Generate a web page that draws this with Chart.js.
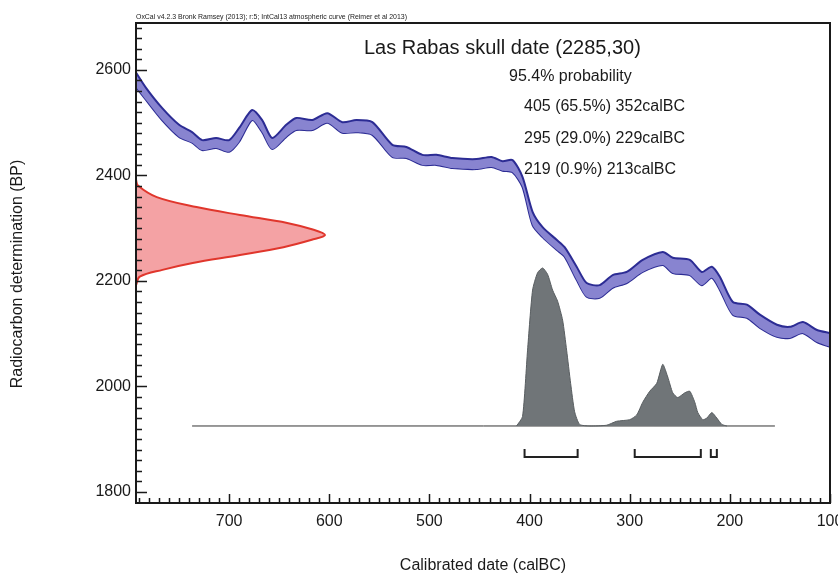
<!DOCTYPE html>
<html>
<head>
<meta charset="utf-8">
<title>Las Rabas skull date</title>
<script src="https://cdn.jsdelivr.net/npm/chart.js@4.4.1/dist/chart.umd.min.js"></script>
<style>
  html, body { margin: 0; padding: 0; background: #fff; }
  canvas { display: block; }
</style>
</head>
<body>
<canvas id="oxcalChart" width="838" height="575"></canvas>
<script>
// IntCal13 band: calBC and the upper / lower edge in BP
const curveYears = [794, 783, 767, 750, 737, 727, 713, 700, 690, 677, 667, 657, 643, 633, 617, 602, 587, 573, 557, 537,
  523, 507, 493, 477, 453, 438, 427, 417, 407, 397, 387, 373, 365, 353, 343, 330, 317, 303, 287, 267,
  257, 240, 228, 218, 210, 197, 183, 170, 153, 140, 127, 113, 100];
const curveHigh = [2598, 2566, 2528, 2496, 2482, 2467, 2471, 2467, 2490, 2524, 2505, 2471, 2496, 2509, 2505, 2518, 2501, 2505, 2501, 2458,
  2454, 2439, 2439, 2433, 2431, 2435, 2427, 2429, 2397, 2331, 2302, 2278, 2264, 2227, 2196, 2192, 2211, 2217, 2240, 2255,
  2244, 2240, 2217, 2227, 2208, 2160, 2155, 2136, 2117, 2113, 2122, 2107, 2101];
const curveLow = [2570, 2543, 2505, 2473, 2462, 2448, 2452, 2445, 2464, 2505, 2482, 2450, 2473, 2486, 2486, 2500, 2481, 2482, 2477, 2435,
  2433, 2420, 2420, 2414, 2412, 2416, 2409, 2406, 2378, 2306, 2283, 2259, 2246, 2202, 2170, 2168, 2187, 2196, 2217, 2230,
  2215, 2211, 2192, 2206, 2183, 2136, 2130, 2111, 2094, 2092, 2101, 2084, 2075];

// the measurement (red, on the BP axis)
const sampleName = "Las Rabas skull date";
const c14Age = 2285;
const c14Err = 30;
const c14Bp = [2392, 2381, 2359, 2340, 2325, 2310, 2297, 2287, 2278, 2264, 2249, 2234, 2221, 2208, 2192];
const c14Dens = [0, 0.01, 0.11, 0.32, 0.55, 0.80, 0.94, 1.0, 0.93, 0.78, 0.55, 0.30, 0.14, 0.02, 0];

// calibrated distribution (grey, on the calBC axis)
const calYears = [413, 407, 402, 397, 392, 387, 382, 377, 372, 367, 363, 359, 355, 350, 340, 323, 313, 300, 293, 287,
  280, 273, 267, 262, 257, 252, 245, 240, 235, 232, 227, 223, 218, 213, 208, 203];
const calDens = [0, 0.06, 0.48, 0.86, 0.97, 1.0, 0.96, 0.86, 0.79, 0.67, 0.48, 0.27, 0.09, 0.01, 0, 0.005, 0.03, 0.04, 0.07, 0.15,
  0.22, 0.27, 0.39, 0.31, 0.21, 0.18, 0.21, 0.22, 0.15, 0.085, 0.04, 0.05, 0.085, 0.05, 0.01, 0];
const calSpan = [737, 155];

// 95.4% ranges
const probLevel = 95.4;
const rangeFrom = [405, 295, 219];
const rangeTo = [352, 229, 213];
const rangePct = [65.5, 29.0, 0.9];

const xTicks = [700, 600, 500, 400, 300, 200, 100];
const yTicks = [1800, 2000, 2200, 2400, 2600];

const FONT = '"Liberation Sans", Arial, sans-serif';
const INK = '#1a1a1a';

const toPts = (xs, ys) => xs.map((v, i) => ({ x: v, y: ys[i] }));

// frame, inward ticks, range brackets and the text
const oxcalDecor = {
  id: 'oxcalDecor',
  afterDraw(chart) {
    const { ctx, chartArea: a, scales } = chart;
    const x = scales.x, y = scales.y, yp = scales.yp;
    ctx.save();

    ctx.strokeStyle = INK;
    ctx.lineWidth = 1.5;
    ctx.beginPath();
    for (let v = 1800; v <= y.max; v += 20) {
      const py = Math.round(y.getPixelForValue(v)) + 0.5;
      const len = v % 200 === 0 ? 11 : 6;
      ctx.moveTo(a.left, py);
      ctx.lineTo(a.left + len, py);
    }
    for (let v = 790; v >= x.min; v -= 10) {
      const px = Math.round(x.getPixelForValue(v)) + 0.5;
      const len = v % 100 === 0 ? 9 : 5;
      ctx.moveTo(px, a.bottom);
      ctx.lineTo(px, a.bottom - len);
    }
    ctx.stroke();

    ctx.lineWidth = 2;
    ctx.strokeRect(a.left, a.top, a.right - a.left, a.bottom - a.top);

    // range brackets under the calibrated distribution
    const by = Math.round(yp.getPixelForValue(0)) + 31;
    ctx.strokeStyle = '#222';
    ctx.lineWidth = 2;
    ctx.beginPath();
    rangeFrom.forEach((f, i) => {
      const x0 = x.getPixelForValue(f), x1 = x.getPixelForValue(rangeTo[i]);
      ctx.moveTo(x0, by - 8);
      ctx.lineTo(x0, by);
      ctx.lineTo(x1, by);
      ctx.lineTo(x1, by - 8);
    });
    ctx.stroke();

    ctx.fillStyle = INK;
    ctx.textBaseline = 'alphabetic';
    ctx.textAlign = 'left';
    ctx.font = '8px ' + FONT;
    ctx.fillText('OxCal v4.2.3 Bronk Ramsey (2013); r:5; IntCal13 atmospheric curve (Reimer et al 2013)', a.left, 19, 271);

    ctx.textBaseline = 'middle';
    ctx.font = '20px ' + FONT;
    ctx.fillText(`${sampleName} (${c14Age},${c14Err})`, 364, 48);
    ctx.font = '16px ' + FONT;
    ctx.fillText(`${probLevel}% probability`, 509, 77);
    rangeFrom.forEach((f, i) => {
      ctx.fillText(`${f} (${rangePct[i].toFixed(1)}%) ${rangeTo[i]}calBC`, 524, 107 + i * 31.5);
    });

    ctx.textAlign = 'center';
    ctx.fillText('Calibrated date (calBC)', (a.left + a.right) / 2, 566);
    ctx.translate(18, 274);
    ctx.rotate(-Math.PI / 2);
    ctx.fillText('Radiocarbon determination (BP)', 0, 0);
    ctx.restore();
  }
};

const ctx = document.getElementById('oxcalChart').getContext('2d');
const oxcalChart = new Chart(ctx, {
  type: 'line',
  data: {
    datasets: [
      {
        label: 'IntCal13 upper',
        data: toPts(curveYears, curveHigh),
        borderColor: '#2c2c94',
        borderWidth: 2,
        backgroundColor: 'rgba(136, 132, 208, 1)',
        fill: '+1',
        tension: 0.25,
      },
      {
        label: 'IntCal13 lower',
        data: toPts(curveYears, curveLow),
        borderColor: '#2c2c94',
        borderWidth: 2,
        fill: false,
        tension: 0.25,
      },
      {
        label: 'R_Date',
        data: toPts(c14Dens, c14Bp),
        indexAxis: 'y',
        xAxisID: 'xp',
        yAxisID: 'y',
        borderColor: '#e0362c',
        borderWidth: 2,
        backgroundColor: '#f4a2a4',
        fill: 'origin',
        tension: 0.35,
      },
      {
        label: 'Calibrated',
        data: toPts(calYears, calDens),
        yAxisID: 'yp',
        borderColor: '#585d60',
        borderWidth: 1,
        backgroundColor: '#707578',
        fill: 'origin',
        tension: 0.2,
      },
      {
        label: 'span',
        data: toPts(calSpan, [0, 0]),
        yAxisID: 'yp',
        borderColor: '#333',
        borderWidth: 1,
        fill: false,
      },
    ],
  },
  options: {
    responsive: false,
    animation: false,
    layout: { padding: { left: 0, right: 8, top: 23, bottom: 0 } },
    elements: { point: { radius: 0 } },
    plugins: {
      legend: { display: false },
      tooltip: { enabled: false },
    },
    scales: {
      x: {
        type: 'linear',
        reverse: true,
        min: 100,
        max: 793,
        grid: { display: false, drawTicks: false },
        border: { display: false },
        ticks: { font: { family: FONT, size: 16 }, color: INK, padding: 9, maxRotation: 0, autoSkip: false,
          callback: (v) => String(v) },
        afterBuildTicks: (s) => { s.ticks = xTicks.map((v) => ({ value: v })); },
        afterFit: (s) => { s.height = 72; s.paddingLeft = 0; s.paddingRight = 0; },
      },
      y: {
        type: 'linear',
        min: 1779,
        max: 2689,
        grid: { display: false, drawTicks: false },
        border: { display: false },
        ticks: { font: { family: FONT, size: 16 }, color: INK, padding: 5, callback: (v) => String(v) },
        afterBuildTicks: (s) => { s.ticks = yTicks.map((v) => ({ value: v })); },
        afterFit: (s) => { s.width = 136; s.paddingTop = 0; s.paddingBottom = 0; },
      },
      xp: { type: 'linear', display: false, min: 0, max: 3.672 },
      yp: { type: 'linear', display: false, min: -0.4873, max: 2.5504 },
    },
  },
  plugins: [oxcalDecor],
});
</script>
</body>
</html>
